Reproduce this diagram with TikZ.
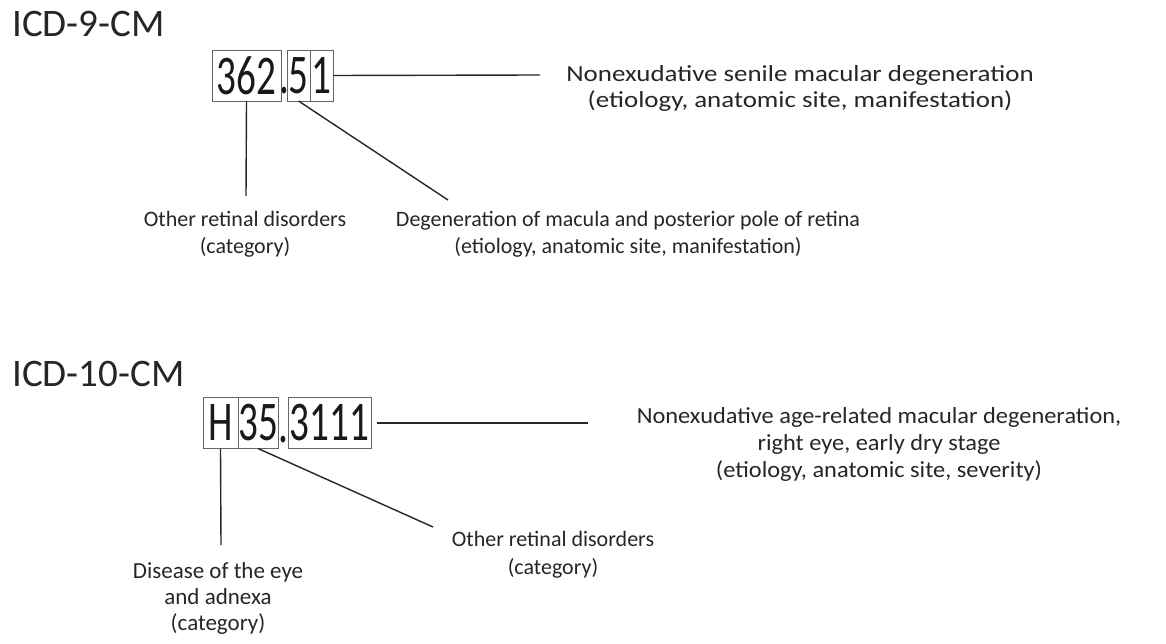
\documentclass[tikz,border=0pt]{standalone}
\usepackage{fontspec}
\setmainfont{Carlito}
\newfontfamily\codefont[FakeStretch=0.7]{Carlito}
\newfontfamily\widefont[FakeStretch=1.17]{Carlito}
\newfontfamily\semifont[FakeStretch=1.06]{Carlito}
\usepackage{tikz}
\usetikzlibrary{positioning}

\begin{document}
\begin{tikzpicture}[x=1pt, y=-1pt,
  heading/.style={anchor=base west, inner sep=0pt, text=black!85,
                  font=\fontsize{39}{47}\selectfont},
  part/.style={draw=black!60, line width=0.9pt, inner sep=0pt, outer sep=0pt,
               minimum height=51pt, text=black!90,
               font=\codefont\fontsize{56}{60}\selectfont},
  sep/.style={inner sep=0pt, anchor=base, text=black!90,
              font=\codefont\fontsize{56}{60}\selectfont},
  lbl/.style={align=center, anchor=base, inner sep=0pt, text=black!85,
              font=\fontsize{22}{28}\selectfont},
  conn/.style={line width=1.4pt, black!85}
]
  \useasboundingbox (0,0) rectangle (1166,644);

  % ICD-9-CM
  \node[heading] (nine) at (12,37) {ICD-9-CM};
  \node[part, minimum width=69pt] (cat362) at (246.5,75.5) {362};
  \node[sep] (dotnine) at (284,94) {.};
  \node[part, minimum width=23pt] (sub5) at (298.5,75.5) {5};
  \node[part, minimum width=23pt, right=0pt of sub5] (sub1) {1};

  % base anchor = last line
  \node[lbl, font=\widefont\fontsize{23}{26}\selectfont] (senile) at (800,108)
    {Nonexudative senile macular degeneration\\(etiology, anatomic site, manifestation)};
  \node[lbl] (retnine) at (245,254) {Other retinal disorders\\(category)};
  \node[lbl] (macula) at (628,254)
    {Degeneration of macula and posterior pole of retina\\(etiology, anatomic site, manifestation)};

  \coordinate (senileend) at (540,75);
  \coordinate (retnineend) at (246,196);
  \coordinate (maculaend) at (448,200);

  \draw[conn] (sub1.east) -- (senileend);
  \draw[conn] (cat362.south) -- (retnineend);
  \draw[conn] (sub5.south) -- (maculaend);

  % ICD-10-CM
  \node[heading] (ten) at (12,386) {ICD-10-CM};
  \node[part, minimum width=35pt] (chapH) at (220.5,423) {H};
  \node[part, minimum width=40pt, right=0pt of chapH] (cat35) {35};
  \node[sep] (dotten) at (283,442) {.};
  \node[part, minimum width=83pt] (sub3111) at (329.5,423) {3111};

  \node[lbl, font=\semifont\fontsize{23}{27}\selectfont] (agerel) at (879,477)
    {Nonexudative age-related macular degeneration,\\right eye, early dry stage\\(etiology, anatomic site, severity)};
  \node[lbl, font=\fontsize{23}{26}\selectfont] (eye) at (218,630)
    {Disease of the eye\\and adnexa\\(category)};
  \node[lbl] (retten) at (553,574) {Other retinal disorders\\(category)};

  \coordinate (agerelend) at (588,423);
  \coordinate (eyeend) at (221,545);
  \coordinate (rettenend) at (433,527);

  \draw[conn, shorten <=6pt] (sub3111.east) -- (agerelend);
  \draw[conn] (chapH.south) -- (eyeend);
  \draw[conn] (cat35.south) -- (rettenend);
\end{tikzpicture}
\end{document}
